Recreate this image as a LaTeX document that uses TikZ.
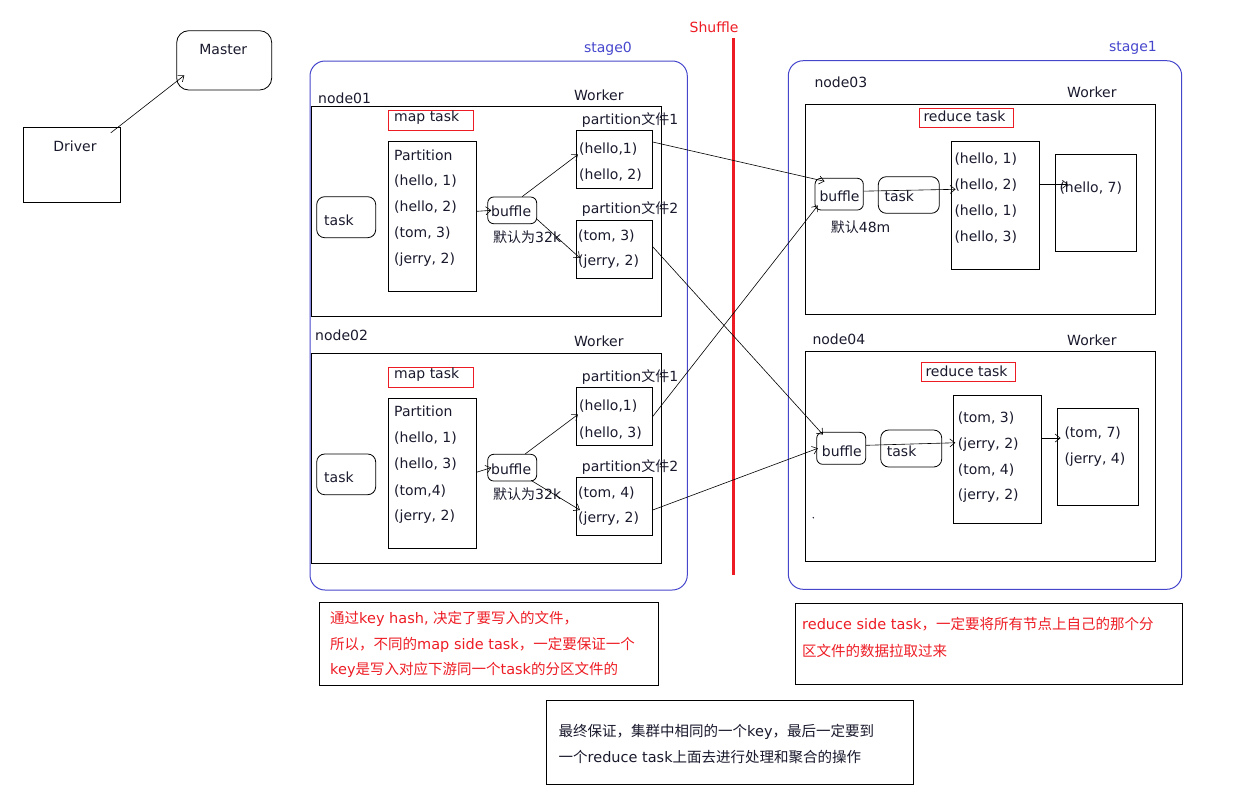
\documentclass[tikz,border=0pt]{standalone}
\usepackage{fontspec}
\setmainfont{DejaVu Sans}
\newfontfamily\cjk{Noto Sans CJK SC}
\usetikzlibrary{arrows.meta,fit,calc}
\definecolor{myred}{RGB}{237,28,36}
\definecolor{myblue}{RGB}{70,70,205}
\definecolor{ink}{RGB}{25,25,45}
\tikzset{
  box/.style={draw=black, line width=0.8pt, inner sep=0pt},
  rbox/.style={box, rounded corners=8pt},
  redbox/.style={draw=myred, line width=0.8pt, inner sep=0pt},
  stagebox/.style={draw=myblue, line width=1pt, rounded corners=15pt, inner sep=0pt},
  txt/.style={inner sep=0pt, anchor=west, text=ink, font=\fontsize{14}{16}\selectfont},
  ctxt/.style={txt, anchor=center},
  note/.style={inner sep=0pt, anchor=west, font=\fontsize{14.5}{17}\selectfont},
  arr/.style={-{Straight Barb[length=5pt,width=8pt]}, line width=0.6pt},
}
\begin{document}
\begin{tikzpicture}[x=1pt,y=-1pt]
\useasboundingbox (0,0) rectangle (1241,787);

% Master / Driver
\node[rbox, rounded corners=12pt, fit={(176.7,30.7)(271.7,90)}] (master) {};
\node[ctxt] (mastert) at (223.3,49) {Master};
\node[box, fit={(23.3,127.3)(120.3,202.3)}] (driver) {};
\node[ctxt] (drivert) at (75,146.7) {Driver};
\draw[arr] ($(driver.north east)+(-10,6)$) -- ($(master.south west)+(8,-15)$);

% Shuffle
\node[inner sep=0pt, text=myred, font=\fontsize{14}{16}\selectfont] (shuf) at (714,27.7) {Shuffle};
\coordinate (shtop) at (733,38.3);
\coordinate (shbot) at (733,574.7);
\draw[myred, line width=3pt] (shtop) -- (shbot);

% stages
\node[stagebox, fit={(310,61)(687.3,590)}] (stage0) {};
\node[inner sep=0pt, text=myblue, font=\fontsize{14}{16}\selectfont] (s0t) at (608,48.3) {stage0};
\node[stagebox, fit={(788.3,60.7)(1181.7,589.3)}] (stage1) {};
\node[inner sep=0pt, text=myblue, font=\fontsize{14}{16}\selectfont] (s1t) at (1133,48.3) {stage1};

% ===== node01 =====
\node[txt] (n1) at (318,98.3) {node01};
\node[txt] (wk1) at (574,95) {Worker};
\node[box, fit={(311.7,106.3)(661.7,316.7)}] (w1) {};
\node[redbox, fit={(388,110.7)(473,130.3)}] (mt1) {};
\node[txt] (mt1t) at (394,118) {map task};
\node[box, fit={(388,141.7)(476,291)}] (pa1) {};
\node[txt] (pa1a) at (394,155) {Partition};
\node[txt] (pa1b) at (394,180.7) {(hello, 1)};
\node[txt] (pa1c) at (394,206.7) {(hello, 2)};
\node[txt] (pa1d) at (394,233) {(tom, 3)};
\node[txt] (pa1e) at (394,260) {(jerry, 2)};
\node[rbox, fit={(316.7,196.7)(375.7,237.7)}] (tk1) {};
\node[txt] (tk1t) at (324,220.7) {task};
\node[rbox, rounded corners=6pt, fit={(487.7,197)(536.7,223.7)}] (bf1) {};
\node[txt] (bf1t) at (491,211.7) {buffle};
\node[txt] (bf1n) at (493,236.7) {{\cjk 默认为}32k};
\node[txt] (pf11l) at (581.7,120) {partition{\cjk 文件}1};
\node[box, fit={(576.3,130.7)(652.3,188.3)}] (pf11) {};
\node[txt] (pf11a) at (579,149.3) {(hello,1)};
\node[txt] (pf11b) at (579,175) {(hello, 2)};
\node[txt] (pf12l) at (581.7,209) {partition{\cjk 文件}2};
\node[box, fit={(576.3,220.3)(652.3,278.3)}] (pf12) {};
\node[txt] (pf12a) at (578,235.7) {(tom, 3)};
\node[txt] (pf12b) at (578,261.7) {(jerry, 2)};
\draw[arr] ([yshift=5pt]pa1.east) -- ([xshift=4pt]bf1.west);
\draw[arr] ([xshift=10pt]bf1.north) -- ([xshift=2pt,yshift=5pt]pf11.west);
\draw[arr] ([yshift=-9pt]bf1.east) -- ([xshift=4pt,yshift=-8.7pt]pf12.west);

% ===== node02 =====
\node[txt] (n2) at (315,335) {node02};
\node[txt] (wk2) at (574,341.7) {Worker};
\node[box, fit={(311.7,353.3)(661.7,563.3)}] (w2) {};
\node[redbox, fit={(388,367.7)(473,387.3)}] (mt2) {};
\node[txt] (mt2t) at (394,375) {map task};
\node[box, fit={(388,398.3)(476,548.3)}] (pa2) {};
\node[txt] (pa2a) at (394,411.7) {Partition};
\node[txt] (pa2b) at (394,438.3) {(hello, 1)};
\node[txt] (pa2c) at (394,464) {(hello, 3)};
\node[txt] (pa2d) at (394,490.7) {(tom,4)};
\node[txt] (pa2e) at (394,516.7) {(jerry, 2)};
\node[rbox, fit={(316.7,454)(375.7,494.7)}] (tk2) {};
\node[txt] (tk2t) at (324,477.7) {task};
\node[rbox, rounded corners=6pt, fit={(487.7,454.3)(536.7,481)}] (bf2) {};
\node[txt] (bf2t) at (491,469) {buffle};
\node[txt] (bf2n) at (493,494) {{\cjk 默认为}32k};
\node[txt] (pf21l) at (581.7,376.7) {partition{\cjk 文件}1};
\node[box, fit={(576.3,387.7)(652.3,445.3)}] (pf21) {};
\node[txt] (pf21a) at (579,406) {(hello,1)};
\node[txt] (pf21b) at (579,432.7) {(hello, 3)};
\node[txt] (pf22l) at (581.7,466.7) {partition{\cjk 文件}2};
\node[box, fit={(576.3,477.3)(652.3,535.3)}] (pf22) {};
\node[txt] (pf22a) at (578,493.3) {(tom, 4)};
\node[txt] (pf22b) at (578,519) {(jerry, 2)};
\draw[arr] ([yshift=1pt]pa2.east) -- ([xshift=4pt]bf2.west);
\draw[arr] ([xshift=13pt]bf2.north) -- ([xshift=2pt,yshift=2pt]pf21.west);
\draw[arr] ([xshift=-6pt,yshift=1pt]bf2.south east) -- ([xshift=4pt,yshift=-3.7pt]pf22.west);

% ===== node03 =====
\node[txt] (n3) at (814.3,82.7) {node03};
\node[txt] (wk3) at (1067,92.3) {Worker};
\node[box, fit={(805.7,104.3)(1155.7,314.3)}] (w3) {};
\node[redbox, fit={(919.3,108.3)(1013.3,127.3)}] (rt3) {};
\node[txt] (rt3t) at (923.3,116.7) {reduce task};
\node[rbox, rounded corners=6pt, fit={(815,178.3)(863.3,210)}] (bf3) {};
\node[txt] (bf3t) at (819.3,196.7) {buffle};
\node[txt] (bf3n) at (830.7,226.7) {{\cjk 默认}48m};
\node[rbox, fit={(878.3,176.7)(939.3,213.3)}] (tk3) {};
\node[txt] (tk3t) at (884.3,196.7) {task};
\node[box, fit={(951,141.3)(1039.7,269.3)}] (ls3) {};
\node[txt] (ls3a) at (954.3,159) {(hello, 1)};
\node[txt] (ls3b) at (954.3,185) {(hello, 2)};
\node[txt] (ls3c) at (954.3,211) {(hello, 1)};
\node[txt] (ls3d) at (954.3,236.7) {(hello, 3)};
\node[box, fit={(1055.3,154.3)(1136.7,251.3)}] (out3) {};
\node[txt] (out3a) at (1059.3,187.7) {(hello, 7)};
\draw[arr] ([yshift=3pt]bf3.east) -- ([xshift=5pt,yshift=16pt]ls3.west);
\draw[arr] ([yshift=21pt]ls3.east) -- ([xshift=13pt,yshift=18.5pt]out3.west);

% ===== node04 =====
\node[txt] (n4) at (812.3,339) {node04};
\node[txt] (wk4) at (1067,340) {Worker};
\node[box, fit={(805.7,351.7)(1155.7,561)}] (w4) {};
\node[redbox, fit={(921.3,362.7)(1015.7,381.7)}] (rt4) {};
\node[txt] (rt4t) at (925.3,371) {reduce task};
\node[rbox, rounded corners=6pt, fit={(816.7,432.3)(865.7,464.3)}] (bf4) {};
\node[txt] (bf4t) at (821.7,451.7) {buffle};
\node[rbox, fit={(880.7,430)(941.7,467)}] (tk4) {};
\node[txt] (tk4t) at (886.7,451.7) {task};
\node[box, fit={(953.3,395.7)(1041.3,523)}] (ls4) {};
\node[txt] (ls4a) at (957.7,418.3) {(tom, 3)};
\node[txt] (ls4b) at (957.7,444.3) {(jerry, 2)};
\node[txt] (ls4c) at (957.7,470) {(tom, 4)};
\node[txt] (ls4d) at (957.7,495.7) {(jerry, 2)};
\node[box, fit={(1057.3,408.7)(1138.3,505)}] (out4) {};
\node[txt] (out4a) at (1064.3,433.3) {(tom, 7)};
\node[txt] (out4b) at (1064.3,459.3) {(jerry, 4)};
\draw[arr] ([yshift=3pt]bf4.east) -- ([xshift=2.4pt,yshift=16.6pt]ls4.west);
\draw[arr] ([yshift=21.3pt]ls4.east) -- ([xshift=3.7pt,yshift=18.8pt]out4.west);
\fill[ink] (813.3,517.7) circle (0.8);

% ===== shuffle connectors =====
\draw[arr] ([yshift=17.5pt]pf11.east) -- ([xshift=10pt,yshift=-3.4pt]bf3.north west);
\draw[arr] ([yshift=2.6pt]pf12.east) -- ([xshift=6.6pt,yshift=-2.7pt]bf4.north west);
\draw[arr] (pf21.east) -- ([xshift=3.3pt,yshift=5pt]bf3.south west);
\draw[arr] ([yshift=-3.7pt]pf22.east) -- ([xshift=1.6pt]bf4.west);

% ===== notes =====
\node[box, fit={(319,602.7)(658,685.5)}] (noteL) {};
\node[note, text=myred] (nl1) at (330,619.3) {{\cjk 通过}key hash, {\cjk 决定了要写入的文件，}};
\node[note, text=myred] (nl2) at (330,645) {{\cjk 所以，不同的}map side task{\cjk ，一定要保证一个}};
\node[note, text=myred] (nl3) at (330,670) {key{\cjk 是写入对应下游同一个}task{\cjk 的分区文件的}};
\node[box, fit={(795,603.3)(1182.5,684.3)}] (noteR) {};
\node[note, text=myred] (nr1) at (802,624.3) {reduce side task{\cjk ，一定要将所有节点上自己的那个分}};
\node[note, text=myred] (nr2) at (802,651) {{\cjk 区文件的数据拉取过来}};
\node[box, fit={(546,700.7)(913,784.3)}] (noteB) {};
\node[note, text=ink] (nb1) at (558.5,732.3) {{\cjk 最终保证，集群中相同的一个}key{\cjk ，最后一定要到}};
\node[note, text=ink] (nb2) at (558.5,756.7) {{\cjk 一个}reduce task{\cjk 上面去进行处理和聚合的操作}};
\end{tikzpicture}
\end{document}
